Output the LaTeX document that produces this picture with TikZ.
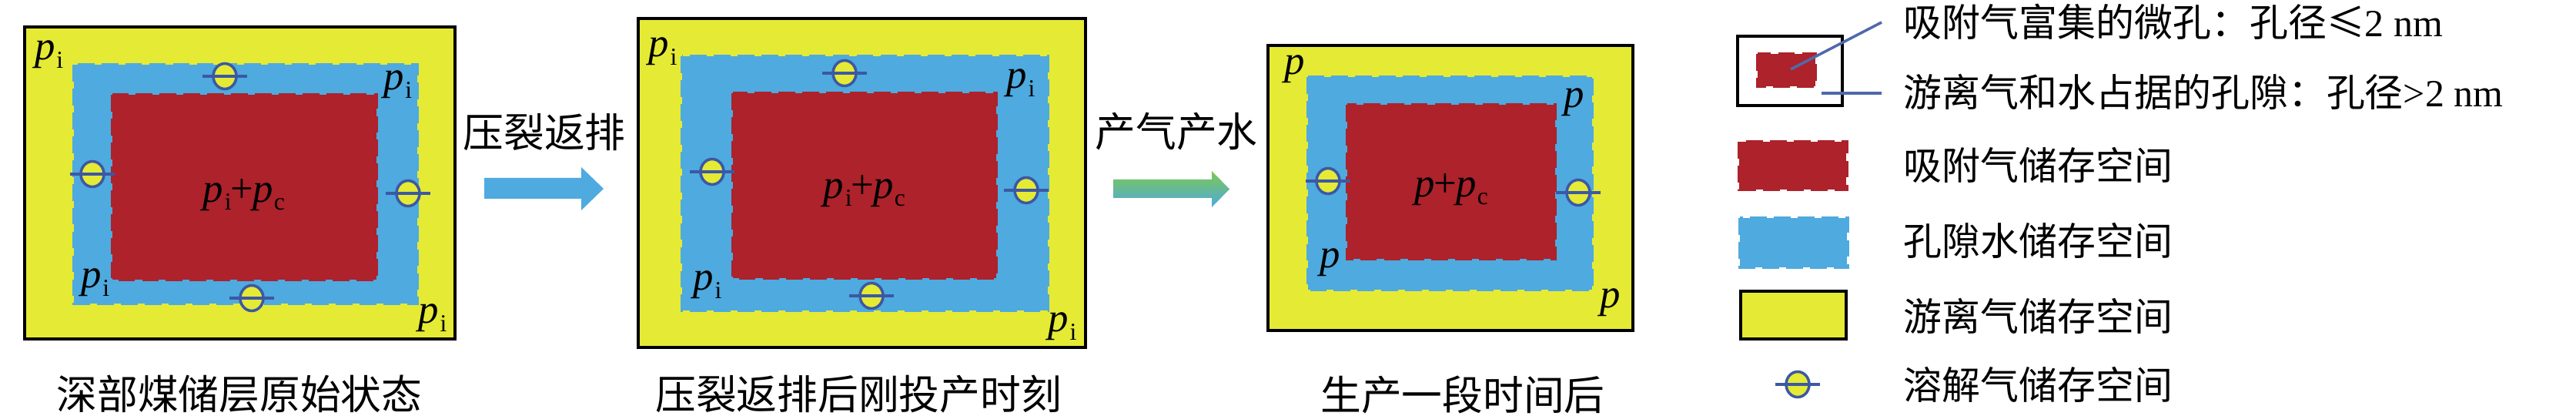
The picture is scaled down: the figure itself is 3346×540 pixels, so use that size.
\documentclass[tikz,border=0pt]{standalone}
\usepackage{fontspec}
\setmainfont{Liberation Serif}
\newfontfamily\cjk{Noto Sans CJK SC}
\usetikzlibrary{shapes.geometric}
\definecolor{coal_yellow}{RGB}{229, 234, 53}
\definecolor{coal_blue}{RGB}{78, 170, 223}
\definecolor{coal_red}{RGB}{173, 34, 43}
\definecolor{coal_ring}{RGB}{60, 88, 164}
\definecolor{coal_green}{RGB}{125, 200, 80}
\newcommand{\psub}[1]{\textit{p}\kern0.4pt\raisebox{-0.2em}{\fontsize{9}{9}\selectfont #1}}

\begin{document}
\begin{tikzpicture}[x=0.01cm, y=-0.01cm,
    every node/.style={inner sep=0pt, font=\fontsize{15}{18}\selectfont},
    freegas/.style={fill=coal_yellow, draw=black, line width=0.9pt},
    porewater/.style={fill=coal_blue, draw=coal_blue, line width=1.4pt, dash pattern=on 6.2pt off 2.6pt},
    adsgas/.style={fill=coal_red, draw=coal_red, line width=1.4pt, dash pattern=on 6.2pt off 2.6pt},
    solgas/.style={ellipse, fill=coal_yellow, draw=coal_ring, line width=1pt,
                   minimum width=0.30cm, minimum height=0.33cm},
    gasbar/.style={draw=coal_ring, line width=0.9pt},
    lead/.style={draw=coal_ring!90!white, line width=1pt},
    captext/.style={font=\cjk\fontsize{15}{18}\selectfont},
    legtext/.style={anchor=west, font=\cjk\fontsize{14.2}{17}\selectfont},
  ]
  \useasboundingbox (0,0) rectangle (3346,540);

  % panel 1: original state
  \draw[freegas]   (32,35)  rectangle (591,440);
  \draw[porewater] (96,84)  rectangle (542,394);
  \draw[adsgas]    (146,123) rectangle (489,363);
  \node (pa1) at (64,71)   {\psub{i}};
  \node (pa2) at (517,110) {\psub{i}};
  \node (pa3) at (124,367) {\psub{i}};
  \node (pa4) at (562,413) {\psub{i}};
  \node (pa0) at (317,253) {\psub{i}\kern-0.3pt+\kern-0.3pt\psub{c}};
  \node[captext] (cap1) at (311,512) {深部煤储层原始状态};

  % panel 2: after fracturing flowback
  \draw[freegas]   (829,24)  rectangle (1410,451);
  \draw[porewater] (886,73)  rectangle (1361,403);
  \draw[adsgas]    (952,121) rectangle (1294,361);
  \node (pb1) at (861,67)   {\psub{i}};
  \node (pb2) at (1326,108) {\psub{i}};
  \node (pb3) at (919,370)  {\psub{i}};
  \node (pb4) at (1380,424) {\psub{i}};
  \node (pb0) at (1123,248) {\psub{i}\kern-0.3pt+\kern-0.3pt\psub{c}};
  \node[captext] (cap2) at (1115,512) {压裂返排后刚投产时刻};

  % panel 3: after production
  \draw[freegas]   (1647,59)  rectangle (2121,429);
  \draw[porewater] (1699,100) rectangle (2068,376);
  \draw[adsgas]    (1750,136) rectangle (2020,336);
  \node (pc1) at (1682,90)  {\textit{p}};
  \node (pc2) at (2045,133) {\textit{p}};
  \node (pc3) at (1728,341) {\textit{p}};
  \node (pc4) at (2092,393) {\textit{p}};
  \node (pc0) at (1885,246) {\textit{p}\kern-0.3pt+\kern-0.3pt\psub{c}};
  \node[captext] (cap3) at (1900,512) {生产一段时间后};

  % dissolved gas
  \foreach \gx/\gy [count=\k] in {292/99, 120/226, 530/251, 327/387,
                                   1097/95, 925/223, 1333/247, 1132/384,
                                   1725/235, 2050/250, 2335/499} {
    \node[solgas] (gas\k) at (\gx,\gy) {};
    \draw[gasbar] ([xshift=-0.12cm]gas\k.west) -- ([xshift=0.12cm]gas\k.east);
  }

  % process arrows
  \fill[coal_blue] (629,231) -- (755,231) -- (755,217) -- (784,245)
    -- (755,273) -- (755,258) -- (629,258) -- cycle;
  \node[captext] (step1) at (707,171) {压裂返排};
  \shade[top color=coal_green, middle color=coal_blue, bottom color=coal_blue]
    (1446,233) -- (1574,233) -- (1574,222) -- (1597,245.5)
    -- (1574,269) -- (1574,257) -- (1446,257) -- cycle;
  \node[captext] (step2) at (1528,171) {产气产水};

  % legend
  \draw[black, line width=0.9pt, fill=white] (2257,47) rectangle (2393,137);
  \draw[adsgas] (2283,70) rectangle (2358,112);
  \draw[adsgas]    (2259,184) rectangle (2398,246);
  \draw[porewater] (2260,283) rectangle (2399,347);
  \draw[freegas]   (2261,378) rectangle (2398,440);
  \node[legtext] (leg1) at (2472,28)  {吸附气富集的微孔：孔径≤{\rmfamily 2 nm}};
  \node[legtext] (leg2) at (2472,119) {游离气和水占据的孔隙：孔径{\rmfamily >2 nm}};
  \node[legtext] (leg3) at (2472,214) {吸附气储存空间};
  \node[legtext] (leg4) at (2472,312) {孔隙水储存空间};
  \node[legtext] (leg5) at (2472,410) {游离气储存空间};
  \node[legtext] (leg6) at (2472,499) {溶解气储存空间};
  \coordinate (micro) at (2326,90);
  \coordinate (macro) at (2366,121);
  \draw[lead] (micro) -- ([xshift=-0.28cm, yshift=-0.01cm]leg1.west);
  \draw[lead] (macro) -- ([xshift=-0.28cm, yshift=-0.02cm]leg2.west);
\end{tikzpicture}
\end{document}
